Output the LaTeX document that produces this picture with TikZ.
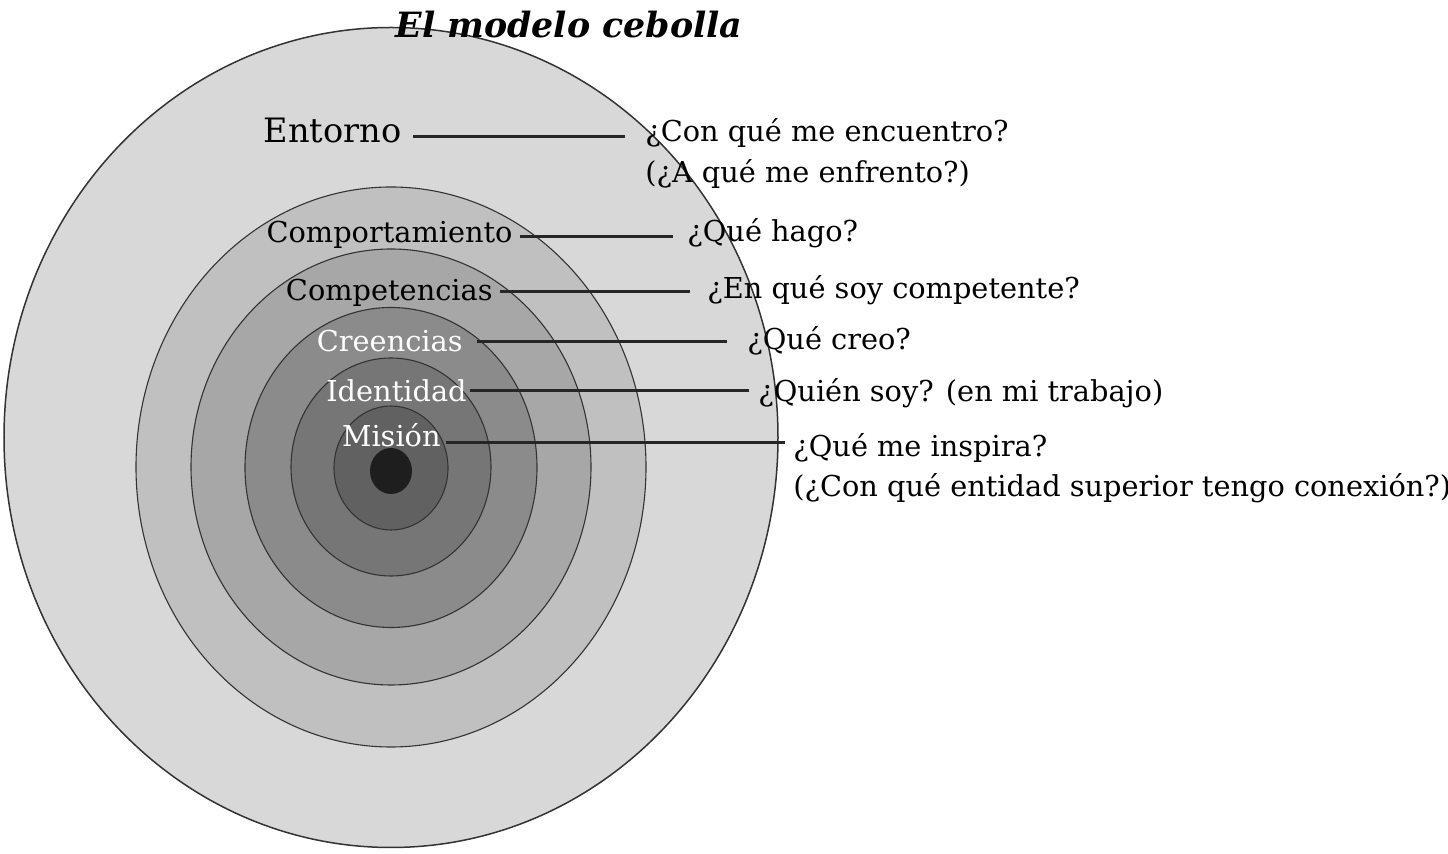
\documentclass[tikz,border=0pt]{standalone}
\usepackage{fontspec}
\setmainfont{DejaVu Serif}
\usetikzlibrary{calc}
\definecolor{ringA}{HTML}{D8D8D8}
\definecolor{ringB}{HTML}{C0C0C0}
\definecolor{ringC}{HTML}{A7A7A7}
\definecolor{ringD}{HTML}{8B8B8B}
\definecolor{ringE}{HTML}{767676}
\definecolor{ringF}{HTML}{616161}
\definecolor{core}{HTML}{1E1E1E}
\definecolor{edge}{HTML}{333333}
\begin{document}
\begin{tikzpicture}[x=0.5pt,y=-0.5pt,
  ring/.style={draw=edge,line width=0.55pt},
  conn/.style={draw=black!85,line width=1.5pt},
  lab/.style={inner sep=0pt,font=\fontsize{14.4}{17}\selectfont},
  whitelab/.style={lab,text=white},
  quest/.style={inner sep=0pt,font=\fontsize{14.4}{17}\selectfont},
  titl/.style={inner sep=0pt,font=\fontsize{17.4}{21}\selectfont\bfseries\itshape}]
\useasboundingbox (0,0) rectangle (1448,854);
% rings
\path[ring,fill=ringA,line width=0.75pt] (391,437.5) ellipse [x radius=387, y radius=410];
\path[ring,fill=ringB] (391,467) ellipse [x radius=255, y radius=280];
\path[ring,fill=ringC] (391,467) ellipse [x radius=200, y radius=218];
\path[ring,fill=ringD] (391,467.5) ellipse [x radius=146, y radius=160];
\path[ring,fill=ringE] (391,467) ellipse [x radius=100, y radius=109];
\path[ring,fill=ringF] (391,468) ellipse [x radius=57, y radius=62];
\path[fill=core] (391,471) ellipse [x radius=21, y radius=23];
% title
\node[titl,anchor=base] (title) at (569,38) {El modelo cebolla};
% left labels
\node[lab,anchor=base east,font=\fontsize{16.8}{20}\selectfont] (lEnt) at (402,143) {Entorno};
\node[lab,anchor=base east] (lCom) at (513,243) {Comportamiento};
\node[lab,anchor=base east] (lCpt) at (493,301) {Competencias};
\node[whitelab,anchor=base east] (lCre) at (463,352) {Creencias};
\node[whitelab,anchor=base east] (lIde) at (467,402) {Identidad};
\node[whitelab,anchor=base east] (lMis) at (441,447) {Misión};
% questions
\node[quest,anchor=base west] (qEnt) at (645,142) {¿Con qué me encuentro?};
\node[quest,anchor=base west] (qEnt2) at (645,183) {(¿A qué me enfrento?)};
\node[quest,anchor=base west] (qCom) at (687,242) {¿Qué hago?};
\node[quest,anchor=base west] (qCpt) at (707,299) {¿En qué soy competente?};
\node[quest,anchor=base west] (qCre) at (747,350) {¿Qué creo?};
\node[quest,anchor=base west] (qIde) at (758,402) {¿Quién soy? (en mi trabajo)};
\node[quest,anchor=base west] (qMis) at (793,457) {¿Qué me inspira?};
\node[quest,anchor=base west] (qMis2) at (793,497) {(¿Con qué entidad superior tengo conexión?)};
% connectors
\draw[conn] ($(lEnt.east |- 0,137)+(11,0)$) -- ($(qEnt.west |- 0,137)-(20,0)$);
\draw[conn] ($(lCom.east |- 0,237)+(7,0)$) -- ($(qCom.west |- 0,237)-(14,0)$);
\draw[conn] ($(lCpt.east |- 0,292)+(7,0)$) -- ($(qCpt.west |- 0,292)-(17,0)$);
\draw[conn] ($(lCre.east |- 0,342)+(14,0)$) -- ($(qCre.west |- 0,342)-(20,0)$);
\draw[conn] ($(lIde.east |- 0,391)+(3,0)$) -- ($(qIde.west |- 0,391)-(9,0)$);
\draw[conn] ($(lMis.east |- 0,443)+(5,0)$) -- ($(qMis.west |- 0,443)-(8,0)$);
\end{tikzpicture}
\end{document}
